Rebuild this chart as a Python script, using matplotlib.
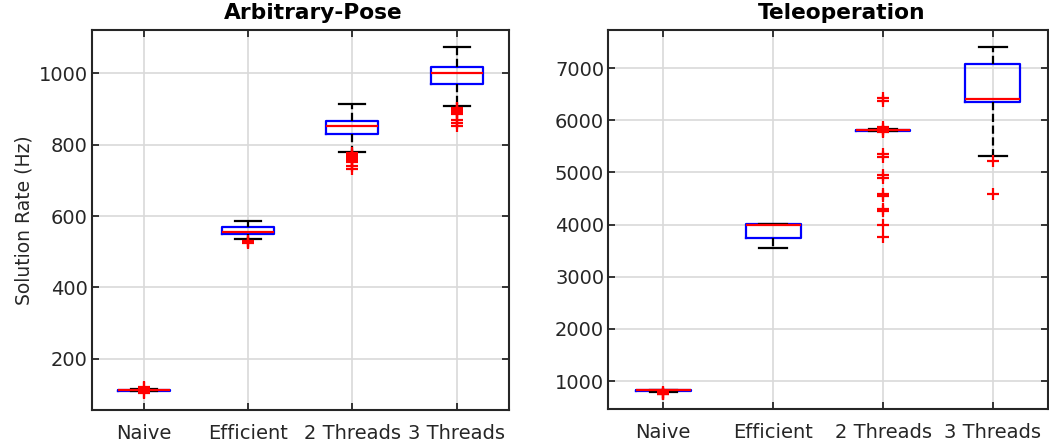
import matplotlib
matplotlib.use("Agg")
import matplotlib.pyplot as plt

# categories
methods = ["Naive", "Efficient", "2 Threads", "3 Threads"]

# Arbitrary-Pose box stats (Hz)
ap_q1 = [111, 549, 829, 969]
ap_med = [112.5, 556, 853, 1000]
ap_q3 = [114, 568, 867, 1016]
ap_lo = [109, 537, 780, 909]
ap_hi = [116, 587, 913, 1073]
ap_fliers = [
    [104, 107, 118, 121],
    [531, 527, 524],
    [776, 772, 768, 764, 760, 756, 752, 741, 731],
    [903, 899, 895, 891, 887, 869, 860, 851],
]

# Teleoperation box stats (Hz)
tel_q1 = [815, 3750, 5800, 6359]
tel_med = [822, 3987, 5810, 6405]
tel_q3 = [830, 4006, 5820, 7088]
tel_lo = [800, 3552, 5800, 5317]
tel_hi = [835, 4018, 5825, 7403]
tel_fliers = [
    [790, 775, 760, 745],
    [],
    [6420, 6370, 5880, 5840, 5800, 5770, 5350, 5300, 4950, 4900,
     4590, 4550, 4290, 4260, 3995, 3760],
    [5227, 4588],
]

plt.rcParams["font.family"] = "DejaVu Sans"
dark = "#262626"


def make_stats(q1, med, q3, lo, hi, fl):
    return [dict(q1=a, med=b, q3=c, whislo=d, whishi=e, fliers=f, label=m)
            for a, b, c, d, e, f, m in zip(q1, med, q3, lo, hi, fl, methods)]


def draw(ax, stats, title, ylim, yticks, title_x):
    ax.bxp(stats, positions=range(1, len(methods) + 1), widths=0.5,
           boxprops=dict(color="blue", linewidth=1.6),
           medianprops=dict(color="red", linewidth=1.6),
           whiskerprops=dict(color="black", linewidth=1.6, linestyle="--"),
           capprops=dict(color="black", linewidth=1.6),
           flierprops=dict(marker="+", markeredgecolor="red", markersize=9,
                           markeredgewidth=1.6, linestyle="none"))
    ax.set_xlim(0.5, 4.5)
    ax.set_ylim(*ylim)
    ax.set_yticks(yticks)
    ax.set_xticks(range(1, len(methods) + 1))
    ax.set_xticklabels(methods)
    ax.set_title(title, fontsize=15.7, fontweight="bold", pad=8, x=title_x)
    ax.grid(True, color="#d9d9d9", linewidth=1.2)
    ax.set_axisbelow(True)
    ax.tick_params(direction="in", length=5, width=1.3, top=True, right=True,
                   labelsize=14, colors=dark)
    ax.tick_params(axis="x", pad=10)
    ax.tick_params(axis="y", pad=3)
    for s in ax.spines.values():
        s.set_color(dark)
        s.set_linewidth(1.5)


fig = plt.figure(figsize=(10.49, 4.45), dpi=100)
ax1 = fig.add_axes([0.0877, 0.078, 0.3972, 0.8546])
ax2 = fig.add_axes([0.5799, 0.080, 0.4190, 0.8530])

draw(ax1, make_stats(ap_q1, ap_med, ap_q3, ap_lo, ap_hi, ap_fliers),
     "Arbitrary-Pose", (56, 1121), [200, 400, 600, 800, 1000], 0.531)
draw(ax2, make_stats(tel_q1, tel_med, tel_q3, tel_lo, tel_hi, tel_fliers),
     "Teleoperation", (457, 7735), [1000, 2000, 3000, 4000, 5000, 6000, 7000],
     0.53)

ax1.set_ylabel("Solution Rate (Hz)", fontsize=13.5, color=dark)

fig.savefig("out.png", dpi=100)
